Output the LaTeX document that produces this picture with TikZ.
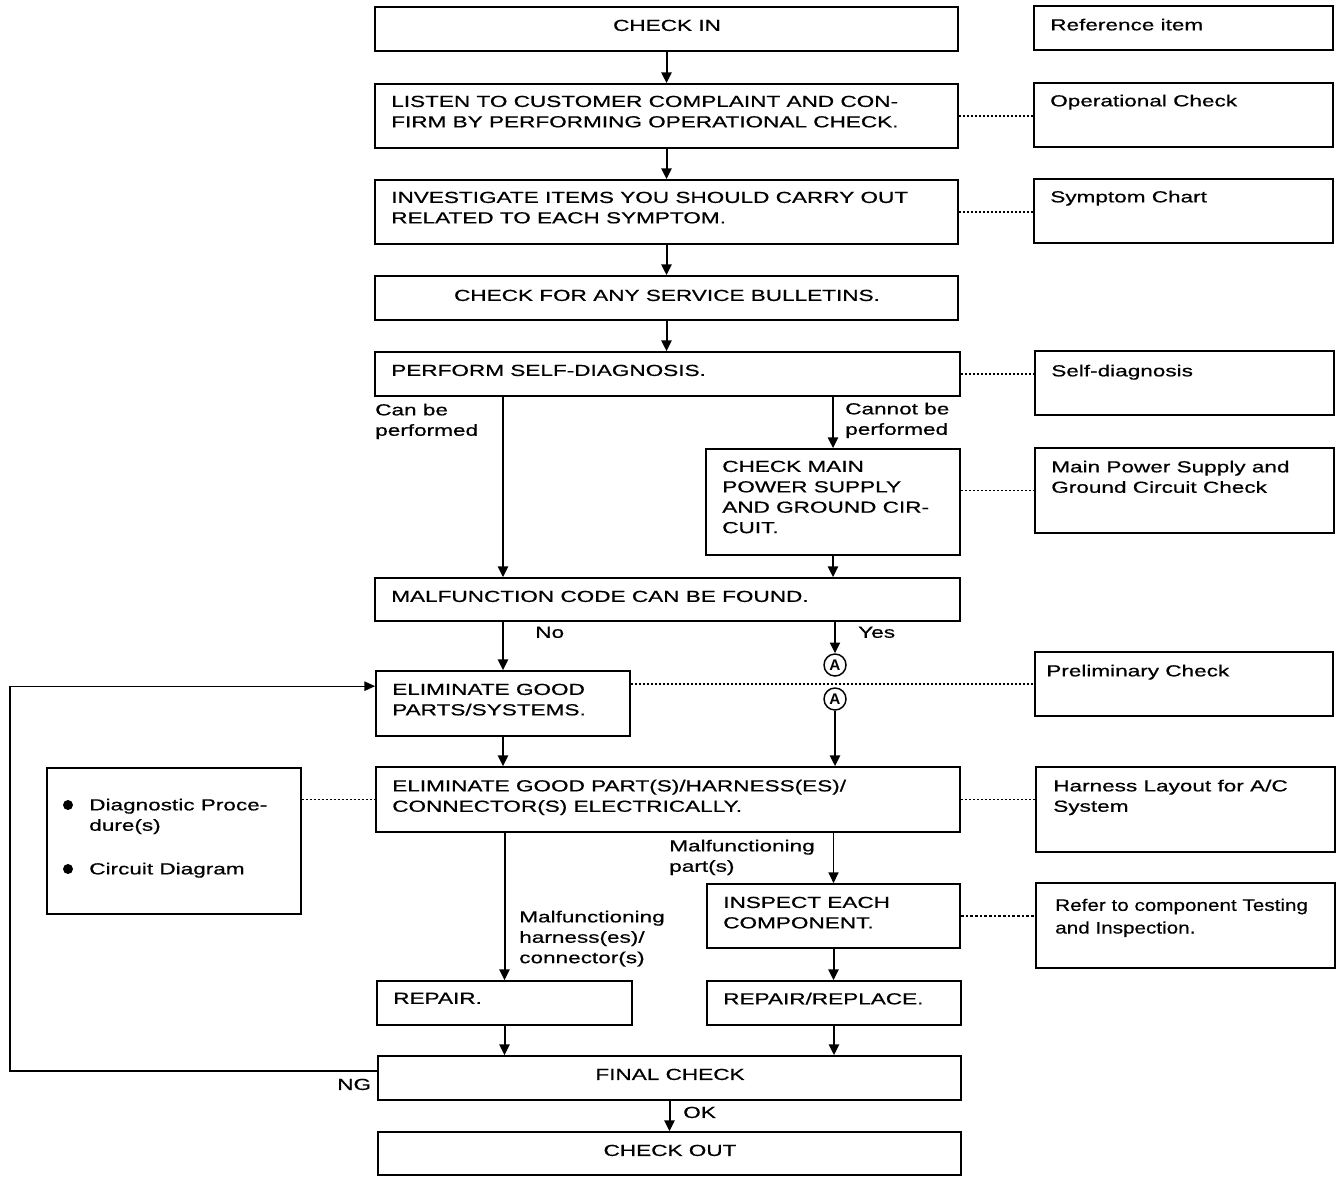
\documentclass[tikz,border=0pt]{standalone}
\usepackage{fontspec}
\setmainfont{Liberation Sans}[FakeStretch=1.41,FakeBold=0.6]
\newfontfamily\reffont{Liberation Sans}[FakeStretch=1.24,FakeBold=0.5]
\newfontfamily\afont{Liberation Sans Bold}
\usetikzlibrary{arrows.meta,fit}
\begin{document}
\begin{tikzpicture}[x=0.75pt,y=-0.75pt,
  box/.style={draw, line width=1.3pt, inner sep=0pt},
  txt/.style={inner sep=0pt, align=left, anchor=north west, font=\fontsize{12}{15.3}\selectfont},
  ctxt/.style={inner sep=0pt, align=center, anchor=north, font=\fontsize{12}{15.3}\selectfont},
  arr/.style={line width=1.5pt, -{Triangle[length=8pt,width=7.5pt]}},
  thinarr/.style={line width=1pt, -{Triangle[length=8pt,width=7.5pt]}},
  dots/.style={line width=1.3pt, dash pattern=on 1.3pt off 1.7pt},
  circA/.style={circle, draw, line width=1.1pt, inner sep=0pt, minimum size=16.5pt, font=\afont\fontsize{11.5}{11.5}\selectfont},
  bul/.style={circle, fill, inner sep=0pt, minimum size=7.5pt}
]
\useasboundingbox (0,0) rectangle (1344,1184);
\fill[white] (0,0) rectangle (1344,1184);

% main column boxes
\node[box, fit={(375,7) (958,51)}] (checkin) {};
\node[box, fit={(375,84) (958,148)}] (listen) {};
\node[box, fit={(375,180) (958,244)}] (invest) {};
\node[box, fit={(375,276) (958,320)}] (bullet) {};
\node[box, fit={(375,352) (960,396)}] (perform) {};
\node[box, fit={(706,449) (960,555)}] (mainpow) {};
\node[box, fit={(375,578) (960,621)}] (malf) {};
\node[box, fit={(376,671) (630,736)}] (elimgood) {};
\node[box, fit={(376,767) (960,832)}] (elimpart) {};
\node[box, fit={(707,884) (960,948)}] (inspect) {};
\node[box, fit={(377,981) (632,1025)}] (repair) {};
\node[box, fit={(707,981) (961,1025)}] (repairrep) {};
\node[box, fit={(378,1056) (961,1100)}] (final) {};
\node[box, fit={(378,1132) (961,1175)}] (checkout) {};

% right boxes
\node[box, fit={(1034,6) (1333,50)}] (r1) {};
\node[box, fit={(1034,83) (1333,147)}] (r2) {};
\node[box, fit={(1034,179) (1333,243)}] (r3) {};
\node[box, fit={(1035,351) (1334,415)}] (r4) {};
\node[box, fit={(1035,448) (1334,533)}] (r5) {};
\node[box, fit={(1035,652) (1333,716)}] (r6) {};
\node[box, fit={(1036,767) (1335,852)}] (r7) {};
\node[box, fit={(1036,883) (1335,968)}] (r8) {};

% left box
\node[box, fit={(47,768) (301,914)}] (left) {};

% texts
\node[ctxt] (t-checkin) at (667,19.5) {CHECK IN};
\node[txt] (t-listen) at (391,95.5) {LISTEN TO CUSTOMER COMPLAINT AND CON-\\FIRM BY PERFORMING OPERATIONAL CHECK.};
\node[txt] (t-invest) at (391,191.5) {INVESTIGATE ITEMS YOU SHOULD CARRY OUT\\RELATED TO EACH SYMPTOM.};
\node[ctxt] (t-bullet) at (667,289.5) {CHECK FOR ANY SERVICE BULLETINS.};
\node[txt] (t-perform) at (391,364.5) {PERFORM SELF-DIAGNOSIS.};
\node[txt] (t-can) at (375,403.5) {Can be\\performed};
\node[txt] (t-cannot) at (845,402.5) {Cannot be\\performed};
\node[txt] (t-mainpow) at (722,460.5) {CHECK MAIN\\POWER SUPPLY\\AND GROUND CIR-\\CUIT.};
\node[txt] (t-malf) at (391,590.5) {MALFUNCTION CODE CAN BE FOUND.};
\node[txt] (t-no) at (535,626.5) {No};
\node[txt] (t-yes) at (858,626.5) {Yes};
\node[txt] (t-elimgood) at (392,683.5) {ELIMINATE GOOD\\PARTS/SYSTEMS.};
\node[txt] (t-elimpart) at (392,779.5) {ELIMINATE GOOD PART(S)/HARNESS(ES)/\\CONNECTOR(S) ELECTRICALLY.};
\node[txt] (t-mpart) at (669,839.5) {Malfunctioning\\part(s)};
\node[txt] (t-inspect) at (723,896.5) {INSPECT EACH\\COMPONENT.};
\node[txt] (t-mharn) at (519,910.5) {Malfunctioning\\harness(es)/\\connector(s)};
\node[txt] (t-repair) at (393,992.5) {REPAIR.};
\node[txt] (t-repairrep) at (723,992.5) {REPAIR/REPLACE.};
\node[ctxt] (t-final) at (670,1068.5) {FINAL CHECK};
\node[txt] (t-ng) at (337,1078.5) {NG};
\node[txt] (t-ok) at (683,1106.5) {OK};
\node[ctxt] (t-checkout) at (670,1144.5) {CHECK OUT};

\node[txt] (t-r1) at (1050,18.5) {Reference item};
\node[txt] (t-r2) at (1050,94.5) {Operational Check};
\node[txt] (t-r3) at (1050,190.5) {Symptom Chart};
\node[txt] (t-r4) at (1051,364.5) {Self-diagnosis};
\node[txt] (t-r5) at (1051,460.5) {Main Power Supply and\\Ground Circuit Check};
\node[txt] (t-r6) at (1046,664.5) {Preliminary Check};
\node[txt] (t-r7) at (1053,779.5) {Harness Layout for A/C\\System};
\node[txt, font=\reffont\fontsize{12.5}{17}\selectfont] (t-r8) at (1055,898.5) {Refer to component Testing\\and Inspection.};

\node[bul] (b1) at (68,805) {};
\node[txt] (t-b1) at (89,798.5) {Diagnostic Proce-\\dure(s)};
\node[bul] (b2) at (68,869) {};
\node[txt] (t-b2) at (89,862.5) {Circuit Diagram};

% circled A
\node[circA] (a1) at (835,665) {A};
\node[circA] (a2) at (835,699) {A};

% arrows
\draw[arr] (checkin.south) -- (listen.north);
\draw[arr] (listen.south) -- (invest.north);
\draw[arr] (invest.south) -- (bullet.north);
\draw[arr] (bullet.south) -- (bullet.south |- perform.north);
\coordinate (xcan) at (503,0);
\draw[arr] (perform.south -| xcan) -- (malf.north -| xcan);
\draw[arr] (perform.south -| mainpow.north) -- (mainpow.north);
\draw[arr] (mainpow.south) -- (mainpow.south |- malf.north);
\draw[arr] (elimgood.north |- malf.south) -- (elimgood.north);
\draw[arr] (a1.north |- malf.south) -- (a1.north);
\draw[arr] (a2.south) -- (a2.south |- elimpart.north);
\draw[arr] (elimgood.south) -- (elimgood.south |- elimpart.north);
\draw[arr] (repair.north |- elimpart.south) -- (repair.north);
\draw[thinarr] (inspect.north |- elimpart.south) -- (inspect.north);
\draw[arr] (inspect.south) -- (inspect.south |- repairrep.north);
\draw[arr] (repair.south) -- (repair.south |- final.north);
\draw[arr] (repairrep.south) -- (repairrep.south |- final.north);
\draw[arr] (final.south) -- (checkout.north);
\draw[line width=1pt, -{Triangle[length=8pt,width=7pt]}] ([yshift=5.25pt]final.west) -- ++(-367,0) |- ([yshift=13pt]elimgood.west);

% dotted links
\draw[dots] (listen.east) -- (listen.east -| r2.west);
\draw[dots] (invest.east) -- (invest.east -| r3.west);
\draw[dots] (perform.east) -- (perform.east -| r4.west);
\draw[dots] (r5.west -| mainpow.east) -- (r5.west);
\draw[dots] (r6.west -| elimgood.east) -- (r6.west);
\draw[dots] (elimpart.east) -- (elimpart.east -| r7.west);
\draw[dots] (elimpart.west -| left.east) -- (elimpart.west);
\draw[line width=0.8pt, dash pattern=on 2pt off 1.5pt] (inspect.east) -- (inspect.east -| r8.west);
\end{tikzpicture}
\end{document}
